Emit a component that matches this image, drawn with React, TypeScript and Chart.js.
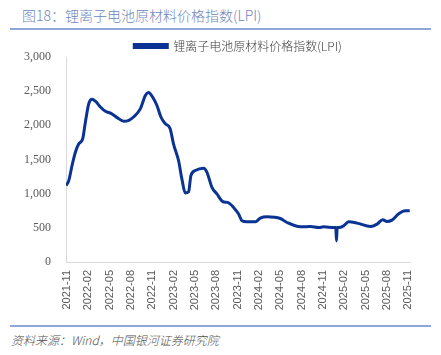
import React, { useEffect, useRef } from "react";
import { Chart, registerables } from "chart.js";

Chart.register(...registerables);

const titleText = "图18：锂离子电池原材料价格指数(LPI)";
const seriesName = "锂离子电池原材料价格指数(LPI)";
const sourceText = "资料来源：Wind，中国银河证券研究院";

// month labels, index 0 = 2021-11, every 3 months
const tickLabels = [
  "2021-11", "2022-02", "2022-05", "2022-08", "2022-11", "2023-02", "2023-05", "2023-08", "2023-11",
  "2024-02", "2024-05", "2024-08", "2024-11", "2025-02", "2025-05", "2025-08", "2025-11",
];

// month offsets from 2021-11
const monthIdx = [
  -0.14, 0.24, 0.7, 1.17, 1.65, 2.2, 2.58, 3.06, 3.52, 3.99, 4.69, 5.39, 6.24, 7.04, 7.99, 8.69,
  9.35, 10.32, 11.03, 11.45, 12.15, 12.63, 13.2, 13.8, 14.5, 14.97, 15.68, 16.15, 16.62, 17.1,
  17.42, 18.03, 19.2, 19.68, 20.38, 21.08, 21.93, 22.58, 23.42, 24.13, 24.6, 25.3, 26.48, 27.18,
  28.13, 30.0, 30.94, 32.82, 34.23, 35.4, 36.1, 37.5, 37.8, 37.9, 38.0, 38.2, 38.9, 39.6, 40.8,
  42.7, 43.6, 44.4, 45.0, 45.7, 46.7, 47.6, 48.2,
];

const lpiValues = [
  1118, 1191, 1412, 1607, 1730, 1804, 2049, 2319, 2382, 2353, 2269, 2206, 2172, 2113, 2059, 2074,
  2122, 2245, 2441, 2481, 2393, 2294, 2122, 2025, 1951, 1730, 1485, 1216, 1010, 1029,
  1265, 1338, 1372, 1313, 1093, 996, 882, 872, 799, 701, 603, 588, 588, 643,
  662, 637, 578, 515, 519, 504, 515, 504, 504, 309, 504, 504, 529, 588, 569,
  519, 554, 618, 593, 613, 710, 750, 750,
];

const yTicks = [0, 500, 1000, 1500, 2000, 2500, 3000];

const legendTrim = {
  id: "legendTrim",
  beforeInit(chart: any) {
    const lg = chart.legend;
    if (!lg) return;
    const orig = lg.fit.bind(lg);
    lg.fit = function () {
      orig();
      this.height = Math.max(0, this.height - 5);
    };
  },
};

export default function App() {
  const canvasRef = useRef<HTMLCanvasElement | null>(null);

  useEffect(() => {
    document.body.style.margin = "0";
    const ctx = canvasRef.current;
    if (!ctx) return;
    const chart = new Chart(ctx, {
      type: "line",
      plugins: [legendTrim],
      data: {
        datasets: [
          {
            label: seriesName,
            data: monthIdx.map((m, i) => ({ x: m, y: lpiValues[i] })),
            borderColor: "#0b3394",
            backgroundColor: "#0b3394",
            borderWidth: 3,
            pointRadius: 0,
            tension: 0.3,
            cubicInterpolationMode: "monotone",
          },
        ],
      },
      options: {
        animation: false,
        responsive: false,
        maintainAspectRatio: false,
        layout: { padding: { top: 9, left: 0, right: 31, bottom: 0 } },
        plugins: {
          legend: {
            display: true,
            position: "top",
            fullSize: false,
            labels: {
              boxWidth: 33,
              boxHeight: 3,
              padding: 1,
              color: "#404040",
              font: { family: "'Noto Sans CJK SC', sans-serif", size: 12, weight: "300" },
            },
          },
          tooltip: { enabled: false },
        },
        scales: {
          x: {
            type: "linear",
            min: -0.15,
            max: 48.24,
            afterBuildTicks: (scale: any) => {
              scale.ticks = tickLabels.map((_, i) => ({ value: i * 3 }));
            },
            afterFit: (scale: any) => {
              scale.height = 50;
            },
            grid: { display: false, drawTicks: false },
            border: { display: true, color: "#d9d9d9", width: 1 },
            ticks: {
              autoSkip: false,
              maxRotation: 90,
              minRotation: 90,
              padding: 8,
              color: "#595959",
              font: { family: "'Liberation Sans', sans-serif", size: 11 },
              callback: (v: any) => tickLabels[Math.round(Number(v) / 3)] ?? "",
            },
          },
          y: {
            min: 0,
            max: 3000,
            afterBuildTicks: (scale: any) => {
              scale.ticks = yTicks.map((v) => ({ value: v }));
            },
            afterFit: (scale: any) => {
              scale.width = 66;
            },
            grid: { display: false, drawTicks: false },
            border: { display: true, color: "#d9d9d9", width: 1 },
            ticks: {
              padding: 15,
              color: "#595959",
              font: { family: "'Liberation Serif', serif", size: 12 },
              callback: (v: any) => Number(v).toLocaleString("en-US"),
            },
          },
        },
      },
    });
    return () => chart.destroy();
  }, []);

  return (
    <div style={{ position: "relative", width: 441, height: 355, background: "#fff", overflow: "hidden" }}>
      <div
        style={{
          position: "absolute",
          left: 22,
          top: 5,
          fontFamily: "'Noto Sans CJK SC', sans-serif",
          fontWeight: 300,
          fontSize: 14,
          color: "#6e86bd",
          lineHeight: "20px",
          whiteSpace: "nowrap",
        }}
      >
        {titleText}
      </div>
      <div style={{ position: "absolute", left: 10, top: 28, width: 421, height: 2, background: "#8ea6d8" }} />
      <canvas
        ref={canvasRef}
        width={441}
        height={282}
        style={{ position: "absolute", left: 0, top: 30, width: 441, height: 282 }}
      />
      <div style={{ position: "absolute", left: 10, top: 325, width: 421, height: 2, background: "#8ea6d8" }} />
      <div
        style={{
          position: "absolute",
          left: 11,
          top: 332,
          fontFamily: "'Noto Sans CJK SC', sans-serif",
          fontStyle: "italic",
          fontWeight: 300,
          fontSize: 12,
          color: "#505050",
          lineHeight: "16px",
          whiteSpace: "nowrap",
        }}
      >
        {sourceText}
      </div>
    </div>
  );
}
